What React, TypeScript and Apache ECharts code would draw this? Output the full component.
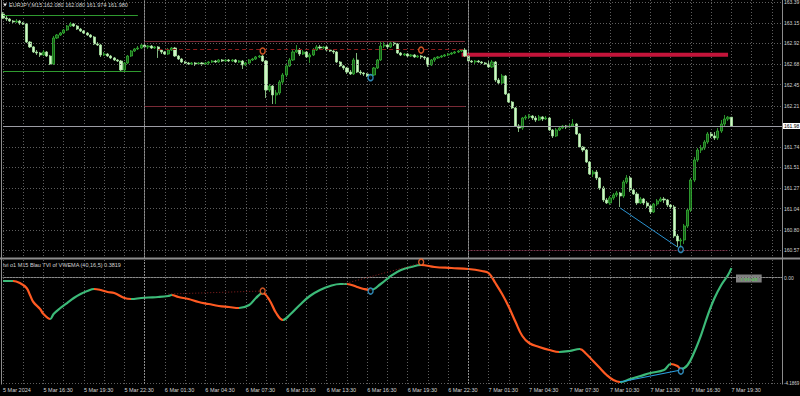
import React, { useEffect, useRef } from 'react';
import * as echarts from 'echarts';

// ---------- data ----------
const timeLabels = ['5 Mar 2024', '5 Mar 16:30', '5 Mar 19:30', '5 Mar 22:30', '6 Mar 01:30', '6 Mar 04:30', '6 Mar 07:30', '6 Mar 10:30', '6 Mar 13:30', '6 Mar 16:30', '6 Mar 19:30', '6 Mar 22:30', '7 Mar 01:30', '7 Mar 04:30', '7 Mar 07:30', '7 Mar 10:30', '7 Mar 13:30', '7 Mar 16:30', '7 Mar 19:30'];
const SLOTS = 232;
const priceTicks = [163.39, 163.15, 162.92, 162.68, 162.45, 162.21, 161.74, 161.51, 161.27, 161.04, 160.80, 160.57];
const bidPrice = 161.98;
const priceMin = 160.479;
const priceMax = 163.413;

const firstOpen = 163.254;
const closes = [
  163.208, 163.197, 163.174, 163.163, 163.174, 163.151, 163.140, 162.935, 162.879, 162.822,
  162.810, 162.788, 162.822, 162.776, 162.685, 162.981, 163.015, 163.038, 163.072, 163.117,
  163.140, 163.117, 163.083, 163.060, 163.038, 163.015, 162.992, 162.913, 162.901, 162.788,
  162.799, 162.776, 162.754, 162.731, 162.719, 162.617, 162.697, 162.776, 162.833, 162.856,
  162.867, 162.901, 162.879, 162.890, 162.867, 162.879, 162.844, 162.822, 162.799, 162.844,
  162.867, 162.776, 162.742, 162.708, 162.697, 162.685, 162.697, 162.685, 162.697, 162.685,
  162.697, 162.708, 162.719, 162.708, 162.731, 162.719, 162.731, 162.719, 162.731, 162.708,
  162.719, 162.674, 162.697, 162.731, 162.742, 162.765, 162.776, 162.719, 162.390, 162.435,
  162.333, 162.356, 162.481, 162.560, 162.663, 162.731, 162.822, 162.844, 162.799, 162.822,
  162.765, 162.788, 162.844, 162.879, 162.867, 162.879, 162.844, 162.833, 162.822, 162.708,
  162.663, 162.640, 162.594, 162.572, 162.731, 162.594, 162.583, 162.572, 162.549, 162.560,
  162.640, 162.731, 162.890, 162.901, 162.879, 162.924, 162.913, 162.810, 162.788, 162.799,
  162.776, 162.788, 162.765, 162.776, 162.765, 162.754, 162.674, 162.731, 162.754, 162.765,
  162.776, 162.788, 162.799, 162.810, 162.822, 162.833, 162.844, 162.776, 162.719, 162.708,
  162.719, 162.708, 162.697, 162.685, 162.651, 162.708, 162.503, 162.469, 162.549, 162.344,
  162.253, 162.185, 161.980, 161.958, 162.071, 162.083, 162.094, 162.071, 162.048, 162.083,
  162.060, 162.071, 161.935, 161.867, 161.935, 161.958, 161.980, 161.969, 161.980, 162.003,
  161.889, 161.741, 161.707, 161.571, 161.435, 161.457, 161.389, 161.275, 161.139, 161.105,
  161.162, 161.196, 161.218, 161.184, 161.343, 161.389, 161.252, 161.207, 161.105, 161.150,
  161.105, 161.071, 161.002, 161.093, 161.127, 161.150, 161.139, 161.082, 161.059, 160.729,
  160.673, 160.684, 160.843, 161.025, 161.366, 161.594, 161.707, 161.730, 161.798, 161.889,
  161.867, 161.844, 161.923, 162.003, 162.060, 162.080, 161.980,
];
const highs = [
  163.277, 163.231, 163.208, 163.186, 163.197, 163.186, 163.163, 163.151, 162.947, 162.890,
  162.844, 162.822, 162.844, 162.833, 162.788, 163.004, 163.026, 163.049, 163.083, 163.129,
  163.163, 163.151, 163.129, 163.095, 163.072, 163.049, 163.026, 163.004, 162.935, 162.913,
  162.822, 162.810, 162.788, 162.765, 162.742, 162.731, 162.708, 162.788, 162.844, 162.867,
  162.890, 162.924, 162.913, 162.901, 162.901, 162.890, 162.890, 162.856, 162.833, 162.867,
  162.879, 162.879, 162.788, 162.754, 162.719, 162.708, 162.708, 162.708, 162.708, 162.708,
  162.708, 162.719, 162.731, 162.731, 162.742, 162.742, 162.742, 162.742, 162.742, 162.742,
  162.731, 162.731, 162.708, 162.742, 162.754, 162.776, 162.788, 162.788, 162.731, 162.458,
  162.446, 162.390, 162.503, 162.583, 162.685, 162.754, 162.844, 162.901, 162.867, 162.844,
  162.833, 162.810, 162.867, 162.901, 162.901, 162.890, 162.890, 162.856, 162.844, 162.833,
  162.719, 162.674, 162.651, 162.617, 162.754, 162.810, 162.617, 162.594, 162.583, 162.572,
  162.651, 162.742, 162.935, 162.935, 162.913, 162.947, 162.935, 162.924, 162.822, 162.810,
  162.810, 162.799, 162.799, 162.788, 162.788, 162.776, 162.765, 162.742, 162.765, 162.776,
  162.788, 162.799, 162.810, 162.822, 162.833, 162.844, 162.856, 162.867, 162.788, 162.731,
  162.731, 162.731, 162.719, 162.708, 162.719, 162.731, 162.719, 162.526, 162.572, 162.560,
  162.356, 162.265, 162.196, 162.003, 162.083, 162.105, 162.117, 162.105, 162.094, 162.105,
  162.094, 162.094, 162.083, 161.946, 161.958, 161.980, 161.992, 161.992, 162.003, 162.060,
  162.014, 161.901, 161.753, 161.719, 161.582, 161.480, 161.480, 161.400, 161.298, 161.162,
  161.184, 161.218, 161.241, 161.230, 161.366, 161.423, 161.412, 161.275, 161.230, 161.173,
  161.162, 161.127, 161.082, 161.105, 161.150, 161.173, 161.173, 161.150, 161.093, 161.082,
  160.752, 160.707, 160.866, 161.048, 161.389, 161.628, 161.730, 161.764, 161.821, 161.912,
  161.912, 161.912, 161.958, 162.048, 162.105, 162.094, 162.080,
];
const lows = [
  163.197, 163.174, 163.163, 163.140, 163.151, 163.129, 163.129, 162.924, 162.867, 162.810,
  162.788, 162.765, 162.776, 162.765, 162.674, 162.674, 162.970, 163.004, 163.026, 163.060,
  163.106, 163.106, 163.072, 163.049, 163.026, 163.004, 162.981, 162.901, 162.890, 162.765,
  162.776, 162.765, 162.742, 162.719, 162.708, 162.594, 162.606, 162.685, 162.765, 162.822,
  162.844, 162.856, 162.867, 162.856, 162.856, 162.856, 162.754, 162.799, 162.788, 162.788,
  162.833, 162.765, 162.731, 162.697, 162.685, 162.674, 162.674, 162.663, 162.674, 162.663,
  162.674, 162.674, 162.697, 162.697, 162.697, 162.708, 162.708, 162.708, 162.708, 162.697,
  162.697, 162.628, 162.663, 162.685, 162.719, 162.731, 162.754, 162.708, 162.299, 162.367,
  162.230, 162.230, 162.333, 162.458, 162.537, 162.651, 162.719, 162.810, 162.776, 162.788,
  162.754, 162.697, 162.776, 162.833, 162.856, 162.856, 162.833, 162.822, 162.799, 162.697,
  162.651, 162.617, 162.572, 162.560, 162.560, 162.583, 162.560, 162.549, 162.537, 162.526,
  162.549, 162.628, 162.719, 162.867, 162.856, 162.867, 162.890, 162.799, 162.776, 162.776,
  162.765, 162.765, 162.754, 162.754, 162.742, 162.731, 162.651, 162.663, 162.708, 162.742,
  162.754, 162.765, 162.776, 162.788, 162.799, 162.810, 162.822, 162.765, 162.708, 162.697,
  162.685, 162.697, 162.685, 162.674, 162.640, 162.640, 162.481, 162.446, 162.458, 162.333,
  162.242, 162.174, 161.969, 161.912, 161.935, 162.048, 162.060, 162.048, 162.026, 162.037,
  162.037, 162.048, 161.923, 161.844, 161.855, 161.923, 161.946, 161.946, 161.958, 161.969,
  161.878, 161.730, 161.685, 161.560, 161.423, 161.400, 161.366, 161.252, 161.116, 161.093,
  161.082, 161.139, 161.173, 161.059, 161.162, 161.321, 161.230, 161.196, 161.082, 161.093,
  161.082, 161.048, 160.980, 160.991, 161.071, 161.116, 161.105, 161.059, 161.036, 160.707,
  160.604, 160.570, 160.638, 160.820, 161.002, 161.343, 161.571, 161.673, 161.707, 161.776,
  161.844, 161.821, 161.821, 161.901, 161.980, 162.037, 161.974,
];

// TVI indicator samples [bar index, value]
const tvi = [
  [0, -0.132], [3, -0.132], [5, -0.212], [7, -0.410], [8, -0.689], [9, -0.967], [11, -1.245], [12, -1.444],
  [14, -1.643], [15, -1.444], [17, -1.205], [19, -1.007], [21, -0.808], [23, -0.649], [25, -0.530], [27, -0.450],
  [29, -0.490], [31, -0.569], [33, -0.609], [36, -0.808], [38, -0.848], [41, -0.808], [43, -0.788], [46, -0.768],
  [49, -0.728], [50, -0.689], [52, -0.768], [55, -0.848], [58, -0.967], [61, -1.046], [64, -1.126], [67, -1.166],
  [70, -1.205], [73, -1.086], [75, -0.808], [77, -0.609], [79, -0.887], [81, -1.404], [83, -1.682], [85, -1.484],
  [88, -1.086], [91, -0.728], [94, -0.490], [97, -0.331], [100, -0.251], [102, -0.251], [105, -0.371], [107, -0.450],
  [109, -0.490], [112, -0.251], [115, 0.067], [118, 0.305], [121, 0.425], [124, 0.504], [128, 0.425], [133, 0.385],
  [138, 0.345], [142, 0.266], [144, 0.186], [146, -0.212], [148, -0.649], [150, -1.166], [152, -1.762], [154, -2.318],
  [156, -2.597], [159, -2.756], [162, -2.875], [165, -2.954], [168, -2.915], [171, -2.835], [173, -3.034], [175, -3.312],
  [177, -3.590], [179, -3.869], [181, -4.067], [183, -4.147], [186, -4.028], [189, -3.908], [192, -3.789], [196, -3.670],
  [198, -3.431], [200, -3.511], [201, -3.630], [203, -3.471], [205, -2.954], [207, -2.279], [209, -1.484], [211, -0.808],
  [213, -0.291], [215, 0.107], [216, 0.3819],
];
const tviLevels = [0.663, 0, -4.1869];
const tviLevelText = ['0.663', '0.00', '-4.1869'];
const tviMin = -4.226;
const tviMax = 0.703;

const mainUpMarks = [[77, 162.833], [124, 162.844]];
const mainDownMarks = [[109, 162.530], [201, 160.576]];
const tviUpMarks = [[77, -0.530], [124, 0.623]];
const tviDownMarks = [[109, -0.530], [201, -3.710]];

const greenHigh = 163.242;
const greenLow = 162.606;
const rangeHigh = 162.947;
const rangeLow = 162.208;
const dashedLevel = 162.850;
const zoneTop = 162.814;
const zoneBottom = 162.768;
const lowLevel = 160.570;
const mainDivergence = [[183, 161.048], [200, 160.604]];
const tviDivergence = [[183, -4.147], [201, -3.670]];
const tviDotted1 = [[49, -0.649], [77, -0.530]];
const tviDotted2 = [[101, -0.251], [124, 0.584]];
const daySeparators = [42, 138];

// ---------- styles ----------
const FONT = 'Liberation Sans';
const FS = 5.5;
const AXFS = 5;
const GRIDC = '#5e5e5e';
const TXT = '#d4d4d4';
const GREEN = '#3cba78';
const ORANGE = '#ff5a22';

function seg(a: number[], b: number[], color: string, type: any, width = 1) {
  const ls = { color, type, width };
  return [
    { coord: a, lineStyle: ls, label: { show: false } },
    { coord: b, lineStyle: ls, label: { show: false } },
  ];
}

export default function App() {
  const ref = useRef<HTMLDivElement>(null);
  useEffect(() => {
    const chart = echarts.init(ref.current as HTMLDivElement, null, { renderer: 'svg' });
    const cats = Array.from({ length: SLOTS }, (_, i) => String(i));
    const candles = closes.map((c, i) => [i === 0 ? firstOpen : closes[i - 1], c, lows[i], highs[i]]);

    // colour pieces of the TVI line by slope
    const pieces: any[] = [];
    for (let k = 0; k < tvi.length - 1; k++) {
      const color = tvi[k + 1][1] >= tvi[k][1] ? GREEN : ORANGE;
      const last = pieces[pieces.length - 1];
      if (last && last.color === color) last.lte = tvi[k + 1][0];
      else pieces.push(k === 0 ? { gte: tvi[k][0], lte: tvi[k + 1][0], color } : { gt: tvi[k][0], lte: tvi[k + 1][0], color });
    }

    const tickLabel = (txt: string, fs = AXFS) => ({
      show: true, position: 'end', formatter: txt, color: TXT, fontSize: fs, fontFamily: FONT, distance: 2,
    });
    const dotted = { color: GRIDC, type: [1, 2], width: 1 };

    const mainLines: any[] = [
      ...priceTicks.map((v) => ({ yAxis: v, lineStyle: dotted, label: tickLabel(v.toFixed(2)) })),
      {
        yAxis: bidPrice, lineStyle: { color: '#9c9ca4', type: 'solid', width: 1 },
        label: { show: true, position: 'end', formatter: bidPrice.toFixed(2), color: '#000', backgroundColor: '#ffffff', padding: [1, 1, 0, 1], fontSize: AXFS, fontFamily: FONT, distance: 1 },
      },
      ...daySeparators.map((x) => ({ xAxis: x, lineStyle: { color: '#8c8c8c', type: [2, 1], width: 1 }, label: { show: false } })),
      seg([0, greenHigh], [40, greenHigh], '#2f9a2f', 'solid'),
      seg([0, greenLow], [41, greenLow], '#2f9a2f', 'solid'),
      seg([42, rangeHigh], [137, rangeHigh], '#7a2a36', 'solid'),
      seg([42, rangeLow], [137, rangeLow], '#7a2a36', 'solid'),
      seg([46, dashedLevel], [137, dashedLevel], '#8a1c1c', [4, 3]),
      seg([138, lowLevel], [215, lowLevel], '#8a2c48', [1, 1]),
      seg(mainDivergence[0], mainDivergence[1], '#2a92d0', 'solid'),
    ];

    const tviLines: any[] = [
      ...tviLevels.map((v, i) => ({
        yAxis: v,
        lineStyle: i === 0 ? { opacity: 0 } : dotted,
        label: { ...tickLabel(tviLevelText[i], i === 2 ? 4.5 : AXFS), padding: i === 0 ? [4, 0, 0, 0] : 0 },
      })),
      ...daySeparators.map((x) => ({ xAxis: x, lineStyle: { color: '#8c8c8c', type: [2, 1], width: 1 }, label: { show: false } })),
      seg(tviDotted1[0], tviDotted1[1], '#8a2020', [1, 2]),
      seg(tviDotted2[0], tviDotted2[1], '#8a2020', [1, 2]),
      seg(tviDivergence[0], tviDivergence[1], '#2a9ee0', 'solid', 1.2),
    ];

    const markerSeries = (data: number[][], color: string, xi: number) => ({
      type: 'scatter', xAxisIndex: xi, yAxisIndex: xi, data, symbol: 'circle', symbolSize: [5, 6],
      itemStyle: { color: '#000', borderColor: color, borderWidth: 1.5 }, silent: true, z: 5,
    });

    const xBase = {
      type: 'category', data: cats, boundaryGap: false,
      axisTick: { show: false },
      splitLine: { show: true, interval: 5, lineStyle: dotted },
    };

    const option: any = {
      animation: false,
      backgroundColor: '#000000',
      textStyle: { fontFamily: FONT },
      grid: [
        { left: 3, right: 18, top: 0, height: 258 },
        { left: 3, right: 18, top: 260, height: 124 },
      ],
      xAxis: [
        { ...xBase, gridIndex: 0, axisLine: { show: false }, axisLabel: { show: false } },
        {
          ...xBase, gridIndex: 1,
          axisLine: { show: true, lineStyle: { color: '#8a8a8a', width: 1 } },
          axisLabel: {
            show: true, interval: 11, align: 'left', color: TXT, fontSize: FS, fontFamily: FONT, margin: 3,
            formatter: (_v: string, idx: number) => (idx % 12 === 0 && timeLabels[idx / 12]) ? timeLabels[idx / 12] : '',
          },
        },
      ],
      yAxis: [
        { type: 'value', gridIndex: 0, min: priceMin, max: priceMax, position: 'right', axisLine: { show: false }, axisTick: { show: false }, axisLabel: { show: false }, splitLine: { show: false } },
        { type: 'value', gridIndex: 1, min: tviMin, max: tviMax, position: 'right', axisLine: { show: false }, axisTick: { show: false }, axisLabel: { show: false }, splitLine: { show: false } },
      ],
      visualMap: [{ type: 'piecewise', show: false, seriesIndex: 1, dimension: 0, pieces, outOfRange: { color: GREEN } }],
      series: [
        {
          type: 'candlestick', xAxisIndex: 0, yAxisIndex: 0, data: candles, barWidth: 2.6,
          itemStyle: { color: '#155c15', borderColor: '#36b436', color0: '#d2f6c8', borderColor0: '#a6e4a0', borderWidth: 0.8 },
          markLine: { silent: true, symbol: ['none', 'none'], animation: false, data: mainLines },
          markArea: {
            silent: true,
            itemStyle: { color: '#c3143a' },
            data: [[{ coord: [136, zoneTop] }, { coord: [215, zoneBottom] }]],
          },
        },
        {
          type: 'line', xAxisIndex: 1, yAxisIndex: 1, data: tvi, smooth: 0.4, showSymbol: false,
          lineStyle: { width: 2.2 },
          markLine: { silent: true, symbol: ['none', 'none'], animation: false, data: tviLines },
        },
        markerSeries(mainUpMarks, '#ff6a30', 0),
        markerSeries(mainDownMarks, '#3aa6e0', 0),
        markerSeries(tviUpMarks, '#ff6a30', 1),
        markerSeries(tviDownMarks, '#3aa6e0', 1),
      ],
      graphic: [
        { type: 'rect', shape: { x: 0, y: 257.5, width: 800, height: 2 }, style: { fill: '#8c8c8c' }, silent: true },
        { type: 'line', shape: { x1: 782.5, y1: 0, x2: 782.5, y2: 384.5 }, style: { stroke: '#8c8c8c', lineWidth: 1 }, silent: true },
        { type: 'line', shape: { x1: 1.5, y1: 0, x2: 1.5, y2: 384.5 }, style: { stroke: '#8c8c8c', lineWidth: 1 }, silent: true },
        { type: 'polygon', shape: { points: [[3, 3.5], [7, 3.5], [5, 6.5]] }, style: { fill: '#e8e8e8' }, silent: true },
        { type: 'text', x: 9, y: 2, style: { text: 'EURJPY,M15 162.080 162.080 161.974 161.980', fill: TXT, fontSize: FS, fontFamily: FONT }, silent: true },
        { type: 'text', x: 3, y: 262, style: { text: 'tvi o1 M15 Blau TVI of VWEMA (40,16,5) 0.3819', fill: TXT, fontSize: FS, fontFamily: FONT }, silent: true },
        {
          type: 'text', x: 736, y: 274.5,
          style: { text: 'TVI-dif', fill: '#4cd04c', fontSize: FS + 0.5, fontFamily: FONT, backgroundColor: '#808080', padding: [1, 4, 1, 4] }, silent: true,
        },
      ],
    };
    chart.setOption(option);
    return () => chart.dispose();
  }, []);
  return <div ref={ref} style={{ position: 'fixed', left: 0, top: 0, width: 800, height: 396, background: '#000' }} />;
}
